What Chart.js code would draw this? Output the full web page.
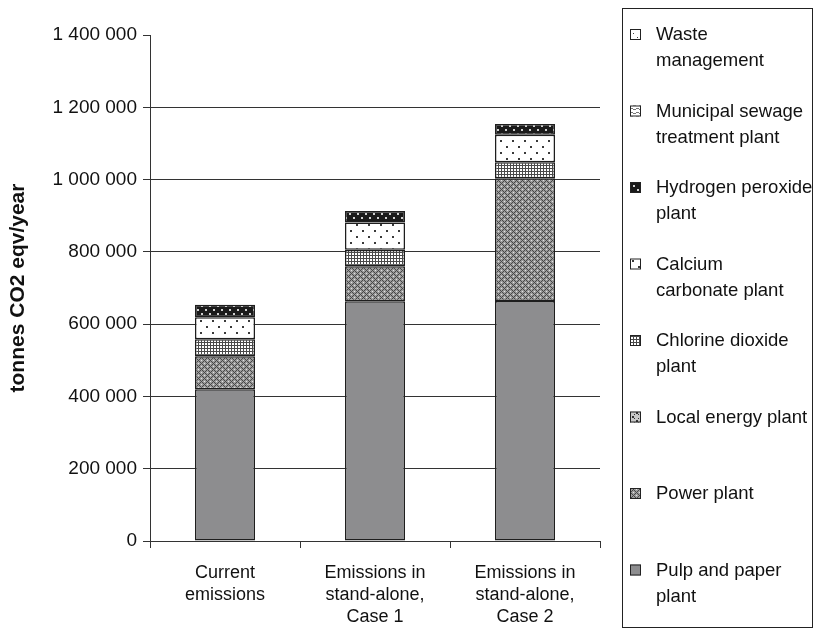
<!DOCTYPE html>
<html>
<head>
<meta charset="utf-8">
<script src="https://cdn.jsdelivr.net/npm/chart.js@4/dist/chart.umd.min.js"></script>
<style>
  html, body { margin: 0; padding: 0; background: #fff; }
  #wrap { width: 815px; height: 637px; position: relative; }
</style>
</head>
<body>
<div id="wrap"><canvas id="c" width="815" height="637"></canvas></div>
<script>
// ---- Data ----
const categories = [
  ["Current", "emissions"],
  ["Emissions in", "stand-alone,", "Case 1"],
  ["Emissions in", "stand-alone,", "Case 2"]
];
const pulpPaper       = [420000, 663000, 664000];
const powerPlant      = [91000, 97000, 340000];
const localEnergy     = [0, 0, 0];
const chlorineDioxide = [47000, 46000, 44000];
const calciumCarb     = [61000, 75000, 76000];
const hydrogenPerox   = [35000, 32000, 30000];
const sewagePlant     = [0, 0, 0];
const wasteMgmt       = [0, 0, 0];
const yTicks = [0, 200000, 400000, 600000, 800000, 1000000, 1200000, 1400000];
const seriesNames = [
  "Pulp and paper\nplant",
  "Power plant",
  "Local energy plant",
  "Chlorine dioxide\nplant",
  "Calcium\ncarbonate plant",
  "Hydrogen peroxide\nplant",
  "Municipal sewage\ntreatment plant",
  "Waste\nmanagement"
];

// ---- Patterns ----
function makePattern(w, h, fn) {
  const c = document.createElement('canvas');
  c.width = w; c.height = h;
  const x = c.getContext('2d');
  fn(x);
  return x.createPattern(c, 'repeat');
}
const pPulp = '#8d8d8f';
const pPower = makePattern(6, 6, x => {
  x.fillStyle = '#9c9c9c'; x.fillRect(0, 0, 6, 6);
  x.fillStyle = '#474747';
  x.fillRect(0, 0, 1, 1); x.fillRect(3, 3, 1, 1);
  x.fillRect(1, 1, 1, 1); x.fillRect(2, 2, 1, 1); x.fillRect(4, 4, 1, 1); x.fillRect(5, 5, 1, 1);
  x.fillRect(5, 1, 1, 1); x.fillRect(4, 2, 1, 1); x.fillRect(2, 4, 1, 1); x.fillRect(1, 5, 1, 1);
  x.fillStyle = '#e2e2e2';
  x.fillRect(0, 3, 1, 1); x.fillRect(3, 0, 1, 1);
});
const pLocal = makePattern(8, 8, x => {
  x.fillStyle = '#c8c8c8'; x.fillRect(0, 0, 8, 8);
  x.fillStyle = '#333';
  x.fillRect(0, 0, 2, 2); x.fillRect(4, 4, 2, 2); x.fillRect(2, 2, 1, 1); x.fillRect(6, 6, 1, 1);
  x.fillRect(6, 2, 1, 1); x.fillRect(2, 6, 1, 1);
});
const pChlorine = makePattern(3, 3, x => {
  x.fillStyle = '#ffffff'; x.fillRect(0, 0, 3, 3);
  x.fillStyle = '#4a4a4a'; x.fillRect(0, 0, 3, 1); x.fillRect(0, 0, 1, 3);
});
const pCalcium = makePattern(12, 12, x => {
  x.fillStyle = '#ffffff'; x.fillRect(0, 0, 12, 12);
  x.fillStyle = '#3a3a3a'; x.fillRect(2, 2, 2, 2); x.fillRect(8, 8, 2, 2);
});
const pHydrogen = makePattern(8, 8, x => {
  x.fillStyle = '#1a1a1a'; x.fillRect(0, 0, 8, 8);
  x.fillStyle = '#d0d0d0'; x.fillRect(1, 1, 2, 2); x.fillRect(5, 5, 2, 2);
});
const pSewage = makePattern(6, 4, x => {
  x.fillStyle = '#ffffff'; x.fillRect(0, 0, 6, 4);
  x.fillStyle = '#777'; x.fillRect(0, 0, 3, 1); x.fillRect(3, 1, 3, 1);
});
const pWaste = makePattern(8, 8, x => {
  x.fillStyle = '#ffffff'; x.fillRect(0, 0, 8, 8);
  x.fillStyle = '#444'; x.fillRect(1, 1, 1, 1); x.fillRect(5, 5, 1, 1);
});

const seriesValues = [pulpPaper, powerPlant, localEnergy, chlorineDioxide, calciumCarb, hydrogenPerox, sewagePlant, wasteMgmt];
const seriesFills = [pPulp, pPower, pLocal, pChlorine, pCalcium, pHydrogen, pSewage, pWaste];

const FONT = '"Liberation Sans", Arial, sans-serif';
const TXT = '#111';

const datasets = seriesValues.map((vals, i) => ({
  label: seriesNames[i],
  data: vals,
  backgroundColor: seriesFills[i],
  borderColor: '#1e1e1e',
  borderWidth: 1.5,
  borderSkipped: false,
  categoryPercentage: 0.8,
  barPercentage: 0.5
}));

function fmt(v) { return String(v).replace(/\B(?=(\d{3})+(?!\d))/g, ' '); }

// Custom boxed legend, items listed from top series to bottom
const boxLegend = {
  id: 'boxLegend',
  afterDraw(chart) {
    const ctx = chart.ctx;
    ctx.save();
    ctx.strokeStyle = '#222';
    ctx.lineWidth = 1;
    ctx.strokeRect(622.5, 8.5, 190, 619);
    const n = chart.data.datasets.length;
    const top = 35, step = 76.5, lh = 26;
    ctx.font = '18.5px ' + FONT;
    ctx.textBaseline = 'middle';
    for (let k = 0; k < n; k++) {
      const ds = chart.data.datasets[n - 1 - k];
      const y = top + k * step;
      ctx.fillStyle = ds.backgroundColor;
      ctx.fillRect(630, y - 6, 11, 11);
      ctx.strokeStyle = '#222';
      ctx.strokeRect(630.5, y - 5.5, 10, 10);
      ctx.fillStyle = TXT;
      ds.label.split('\n').forEach((line, j) => ctx.fillText(line, 656, y + j * lh));
    }
    ctx.restore();
  }
};

new Chart(document.getElementById('c'), {
  type: 'bar',
  data: { labels: categories, datasets },
  options: {
    responsive: false,
    animation: false,
    devicePixelRatio: 1,
    layout: { padding: { left: 0, right: 215, top: 35, bottom: 0 } },
    plugins: { legend: { display: false }, tooltip: { enabled: false } },
    scales: {
      x: {
        stacked: true,
        afterFit: s => { s.height = 96; },
        grid: { drawOnChartArea: false, drawTicks: true, tickLength: 7, color: '#333', offset: true },
        border: { display: true, color: '#333', width: 1 },
        ticks: { color: TXT, font: { family: FONT, size: 18, lineHeight: 1.22 }, padding: 14, maxRotation: 0, autoSkip: false }
      },
      y: {
        stacked: true,
        min: 0, max: 1400000,
        afterFit: s => { s.width = 150; },
        afterBuildTicks: s => { s.ticks = yTicks.map(v => ({ value: v })); },
        grid: {
          color: c => (c.tick && c.tick.value === 1400000) ? 'rgba(0,0,0,0)' : '#333',
          tickColor: '#333',
          tickLength: 7,
          lineWidth: 1
        },
        border: { display: true, color: '#333', width: 1 },
        ticks: { color: TXT, font: { family: FONT, size: 19 }, padding: 6, callback: v => fmt(v) },
        title: {
          display: true,
          text: 'tonnes CO2 eqv/year',
          color: TXT,
          font: { family: FONT, size: 21, weight: 'bold' },
          padding: { top: 6, bottom: 0 }
        }
      }
    }
  },
  plugins: [boxLegend]
});
</script>
</body>
</html>
